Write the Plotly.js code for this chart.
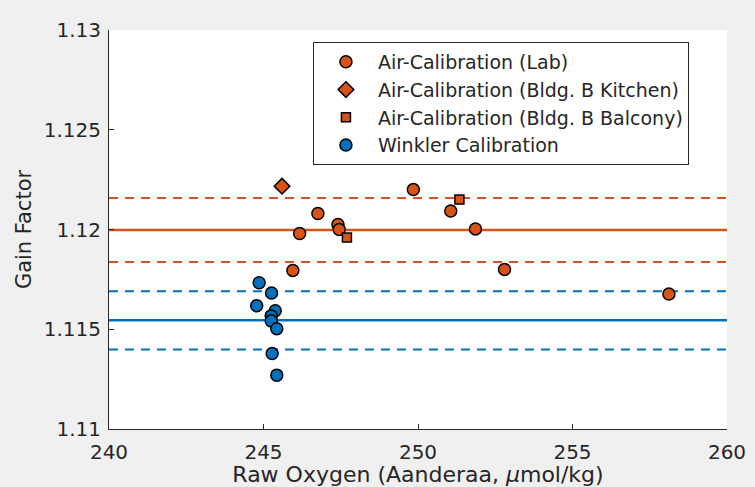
<!DOCTYPE html>
<html>
<head>
<meta charset="utf-8">
<script src="https://cdn.plot.ly/plotly-3.0.1.min.js"></script>
<style>html,body{margin:0;padding:0;background:#f0f0f0;}</style>
</head>
<body>
<div id="chart" style="width:755px;height:487px;"></div>
<script>
// Data
const labX = [245.95, 246.17, 246.76, 247.41, 247.45, 249.85, 251.06, 251.86, 252.80, 258.12];
const labY = [1.11795, 1.1198, 1.1208, 1.12025, 1.1200, 1.1220, 1.12093, 1.12003, 1.1180, 1.11677];
const kitchenX = [245.60];
const kitchenY = [1.12217];
const balconyX = [247.70, 251.34];
const balconyY = [1.1196, 1.1215];
const winklerX = [244.86, 245.26, 244.78, 245.38, 245.25, 245.25, 245.43, 245.28, 245.43];
const winklerY = [1.11733, 1.11682, 1.11618, 1.11593, 1.11567, 1.11542, 1.11503, 1.11378, 1.1127];
const airMean = 1.11997, airUpper = 1.12158, airLower = 1.11837;
const winMean = 1.11545, winUpper = 1.1169, winLower = 1.11398;
const xRange = [240, 260];
const yTicks = [1.11, 1.115, 1.12, 1.125, 1.13];
const yTickText = ['1.11', '1.115', '1.12', '1.125', '1.13'];
const xTicks = [240, 245, 250, 255, 260];
const names = ['Air-Calibration (Lab)', 'Air-Calibration (Bldg. B Kitchen)', 'Air-Calibration (Bldg. B Balcony)', 'Winkler Calibration'];

const orange = '#D95319', blue = '#0072BD';
function hline(y, color, dash, w) {
  return {x: xRange, y: [y, y], mode: 'lines', line: {color: color, dash: dash, width: w}, showlegend: false, hoverinfo: 'skip'};
}
const mk = (color, symbol, size) => ({color: color, symbol: symbol, size: size, line: {color: '#000', width: 1.5}});
const DASH = '9px,7px';

const traces = [
  hline(airUpper, orange, DASH, 2), hline(airMean, orange, 'solid', 2.5), hline(airLower, orange, DASH, 2),
  hline(winUpper, blue, DASH, 2), hline(winMean, blue, 'solid', 2.5), hline(winLower, blue, DASH, 2),
  {x: labX, y: labY, mode: 'markers', name: names[0], marker: mk(orange, 'circle', 12)},
  {x: kitchenX, y: kitchenY, mode: 'markers', name: names[1], marker: mk(orange, 'diamond', 12)},
  {x: balconyX, y: balconyY, mode: 'markers', name: names[2], marker: mk(orange, 'square', 9)},
  {x: winklerX, y: winklerY, mode: 'markers', name: names[3], marker: mk(blue, 'circle', 12)}
];

const FAM = 'DejaVu Sans, Verdana, sans-serif';
const TXT = '#262626';
const layout = {
  width: 755, height: 487,
  paper_bgcolor: '#f0f0f0', plot_bgcolor: '#ffffff',
  margin: {l: 109, r: 28, t: 30, b: 58},
  font: {family: FAM, color: TXT, size: 20},
  xaxis: {range: xRange, tickvals: xTicks, ticks: 'inside', ticklen: 5, tickcolor: TXT,
    showline: true, linecolor: TXT, linewidth: 1, showgrid: false, zeroline: false,
    tickfont: {family: FAM, size: 20, color: TXT}, ticklabelstandoff: 5,
    title: {text: 'Raw Oxygen (Aanderaa, <i>μ</i>mol/kg)', font: {family: FAM, size: 22, color: TXT}, standoff: 0}},
  yaxis: {range: [1.11, 1.13], tickvals: yTicks, ticktext: yTickText, ticks: 'inside', ticklen: 5, tickcolor: TXT,
    showline: true, linecolor: TXT, linewidth: 1, showgrid: false, zeroline: false,
    tickfont: {family: FAM, size: 20, color: TXT}, ticklabelstandoff: 3,
    title: {text: 'Gain Factor', font: {family: FAM, size: 21, color: TXT}, standoff: 6}},
  legend: {x: 0.33, y: 0.97, xanchor: 'left', yanchor: 'top', bgcolor: '#ffffff', bordercolor: TXT, borderwidth: 1,
    font: {family: FAM, size: 19, color: TXT}, tracegroupgap: 0, itemwidth: 54},
  showlegend: true
};
Plotly.newPlot('chart', traces, layout, {displayModeBar: false, staticPlot: true});
</script>
</body>
</html>
